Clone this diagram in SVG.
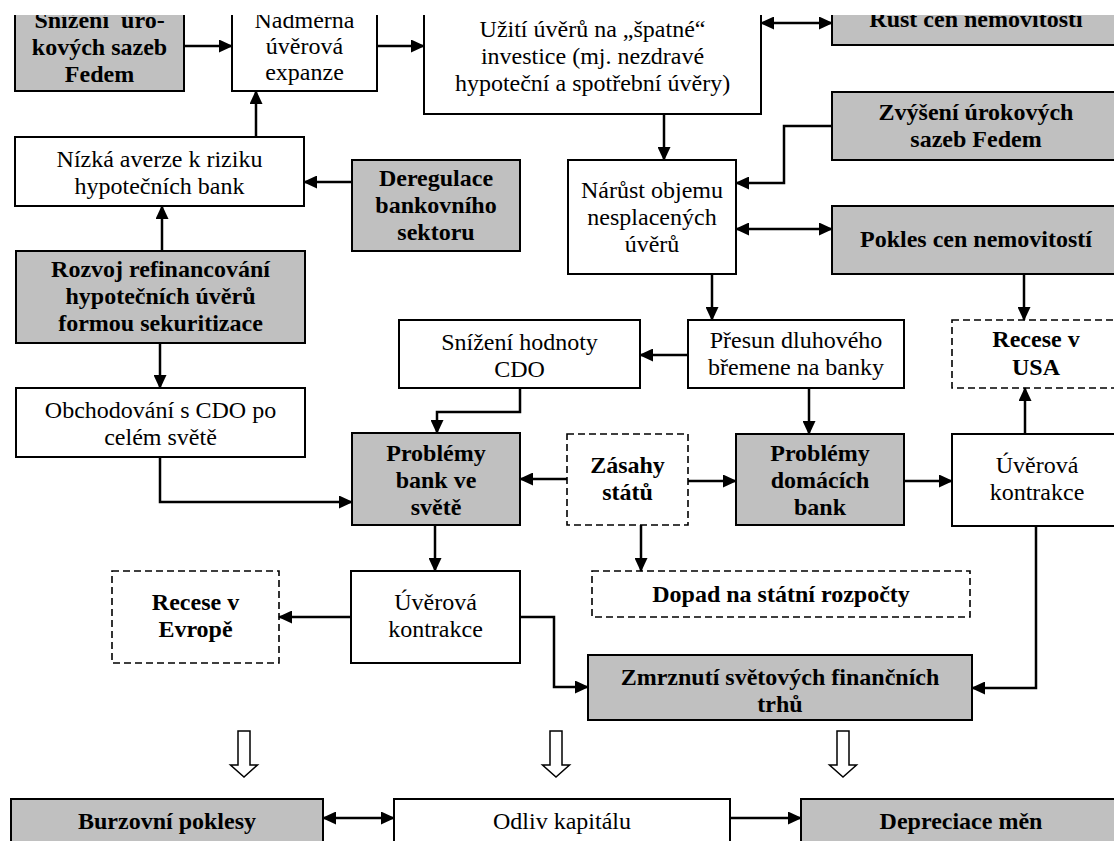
<svg xmlns="http://www.w3.org/2000/svg" width="1114" height="841" viewBox="0 0 1114 841">
<style>
.t{font-family:"Liberation Serif","Times New Roman",serif;font-size:24px;text-anchor:middle;fill:#000}
.b{font-weight:bold}
.w{fill:#fff;stroke:#000;stroke-width:2}
.g{fill:#c0c0c0;stroke:#000;stroke-width:2}
.d{fill:#fff;stroke:#000;stroke-width:1.6;stroke-dasharray:7 4}
.c{fill:none;stroke:#000;stroke-width:2.5}
.a{marker-end:url(#ah)}
.aa{marker-end:url(#ah);marker-start:url(#ah)}
.h{fill:#fff;stroke:#000;stroke-width:1.5}
</style>
<defs>
<marker id="ah" markerUnits="userSpaceOnUse" markerWidth="14" markerHeight="13" refX="13" refY="6.5" orient="auto-start-reverse">
<path d="M0,0 L14,6.5 L0,13 z" fill="#000"/>
</marker>
<clipPath id="clip"><rect x="0" y="15" width="1114" height="826"/></clipPath>
</defs>
<rect x="0" y="0" width="1114" height="841" fill="#fff"/>
<g clip-path="url(#clip)">
<g id="n1"><rect class="g" x="15" y="5" width="169" height="86"/>
<text class="t b"><tspan x="99.5" y="28" word-spacing="6">Snížení úro-</tspan><tspan x="99.5" y="55">kových sazeb</tspan><tspan x="99.5" y="82">Fedem</tspan></text></g>
<g id="n2"><rect class="w" x="232" y="5" width="145" height="86"/>
<text class="t"><tspan x="304.5" y="28">Nadměrná</tspan><tspan x="304.5" y="54">úvěrová</tspan><tspan x="304.5" y="80">expanze</tspan></text></g>
<g id="n3"><rect class="w" x="424" y="5" width="337" height="109"/>
<text class="t"><tspan x="592.5" y="37">Užití úvěrů na „špatné“</tspan><tspan x="592.5" y="64">investice (mj. nezdravé</tspan><tspan x="592.5" y="91">hypoteční a spotřební úvěry)</tspan></text></g>
<g id="n4"><rect class="g" x="832" y="5" width="290" height="40"/>
<text class="t b" x="976" y="27">Růst cen nemovitostí</text></g>
<g id="n5"><rect class="g" x="832" y="92" width="290" height="68"/>
<text class="t b"><tspan x="976" y="120">Zvýšení úrokových</tspan><tspan x="976" y="147">sazeb Fedem</tspan></text></g>
<g id="n6"><rect class="w" x="568" y="160" width="168" height="114"/>
<text class="t"><tspan x="652" y="198">Nárůst objemu</tspan><tspan x="652" y="225">nesplacených</tspan><tspan x="652" y="252">úvěrů</tspan></text></g>
<g id="n7"><rect class="g" x="832" y="206" width="290" height="68"/>
<text class="t b" x="976" y="247">Pokles cen nemovitostí</text></g>
<g id="n8"><rect class="w" x="15" y="137" width="289" height="69"/>
<text class="t"><tspan x="159.5" y="167">Nízká averze k riziku</tspan><tspan x="159.5" y="194">hypotečních bank</tspan></text></g>
<g id="n9"><rect class="g" x="352" y="160" width="168" height="91"/>
<text class="t b"><tspan x="436" y="186">Deregulace</tspan><tspan x="436" y="213">bankovního</tspan><tspan x="436" y="240">sektoru</tspan></text></g>
<g id="n10"><rect class="g" x="16" y="251" width="289" height="92"/>
<text class="t b"><tspan x="160.5" y="277">Rozvoj refinancování</tspan><tspan x="160.5" y="304">hypotečních úvěrů</tspan><tspan x="160.5" y="331">formou sekuritizace</tspan></text></g>
<g id="n11"><rect class="w" x="399" y="320" width="241" height="68"/>
<text class="t"><tspan x="519.5" y="350">Snížení hodnoty</tspan><tspan x="519.5" y="377">CDO</tspan></text></g>
<g id="n12"><rect class="w" x="688" y="320" width="216" height="68"/>
<text class="t"><tspan x="796" y="348">Přesun dluhového</tspan><tspan x="796" y="375">břemene na banky</tspan></text></g>
<g id="n13"><rect class="d" x="952" y="320" width="170" height="68"/>
<text class="t b"><tspan x="1036" y="347">Recese v</tspan><tspan x="1036" y="375">USA</tspan></text></g>
<g id="n14"><rect class="w" x="16" y="388" width="289" height="69"/>
<text class="t"><tspan x="160.5" y="418">Obchodování s CDO po</tspan><tspan x="160.5" y="445">celém světě</tspan></text></g>
<g id="n15"><rect class="g" x="352" y="433" width="168" height="92"/>
<text class="t b"><tspan x="436" y="461">Problémy</tspan><tspan x="436" y="488">bank ve</tspan><tspan x="436" y="515">světě</tspan></text></g>
<g id="n16"><rect class="d" x="567" y="434" width="121" height="91"/>
<text class="t b"><tspan x="627.5" y="473">Zásahy</tspan><tspan x="627.5" y="500">států</tspan></text></g>
<g id="n17"><rect class="g" x="736" y="434" width="168" height="91"/>
<text class="t b"><tspan x="820" y="461">Problémy</tspan><tspan x="820" y="488">domácích</tspan><tspan x="820" y="515">bank</tspan></text></g>
<g id="n18"><rect class="w" x="952" y="434" width="170" height="92"/>
<text class="t"><tspan x="1037" y="473">Úvěrová</tspan><tspan x="1037" y="500">kontrakce</tspan></text></g>
<g id="n19"><rect class="d" x="112" y="571" width="167" height="92"/>
<text class="t b"><tspan x="195.5" y="610">Recese v</tspan><tspan x="195.5" y="637">Evropě</tspan></text></g>
<g id="n20"><rect class="w" x="351" y="571" width="169" height="92"/>
<text class="t"><tspan x="435.5" y="610">Úvěrová</tspan><tspan x="435.5" y="637">kontrakce</tspan></text></g>
<g id="n21"><rect class="d" x="592" y="571" width="378" height="46"/>
<text class="t b" x="781" y="602">Dopad na státní rozpočty</text></g>
<g id="n22"><rect class="g" x="588" y="655" width="384" height="65"/>
<text class="t b"><tspan x="780" y="685">Zmrznutí světových finančních</tspan><tspan x="780" y="712">trhů</tspan></text></g>
<g id="n23"><rect class="g" x="11" y="799" width="312" height="60"/>
<text class="t b" x="167" y="829">Burzovní poklesy</text></g>
<g id="n24"><rect class="w" x="394" y="799" width="336" height="60"/>
<text class="t" x="562" y="829">Odliv kapitálu</text></g>
<g id="n25"><rect class="g" x="801" y="799" width="330" height="60"/>
<text class="t b" x="961" y="829">Depreciace měn</text></g>
<g id="connectors">
<path class="c a" d="M184,46 H232"/>
<path class="c a" d="M377,46 H424"/>
<path class="c aa" d="M761,23 H832"/>
<path class="c a" d="M256,137 V91"/>
<path class="c a" d="M352,182 H304"/>
<path class="c a" d="M162,251 V206"/>
<path class="c a" d="M664,114 V160"/>
<path class="c a" d="M832,126 H784 V183 H736"/>
<path class="c aa" d="M736,229 H832"/>
<path class="c a" d="M712,274 V320"/>
<path class="c a" d="M1024,274 V320"/>
<path class="c a" d="M688,355 H640"/>
<path class="c a" d="M809,388 V434"/>
<path class="c a" d="M160,343 V388"/>
<path class="c a" d="M160,457 V502 H352"/>
<path class="c a" d="M520,388 V412 H437 V433"/>
<path class="c a" d="M567,479 H520"/>
<path class="c a" d="M688,481 H736"/>
<path class="c a" d="M904,481 H952"/>
<path class="c a" d="M1025,434 V388"/>
<path class="c a" d="M641,525 V571"/>
<path class="c a" d="M435,525 V571"/>
<path class="c a" d="M351,617 H279"/>
<path class="c a" d="M520,617 H554 V687 H588"/>
<path class="c a" d="M1036,526 V688 H972"/>
<path class="c aa" d="M323,818 H394"/>
<path class="c a" d="M730,818 H801"/>
<polygon class="h" points="238,731 250,731 250,765 257.5,765 244,777 230.5,765 238,765"/>
<polygon class="h" points="550,731 562,731 562,765 569.5,765 556,777 542.5,765 550,765"/>
<polygon class="h" points="837,731 849,731 849,765 856.5,765 843,777 829.5,765 837,765"/>
</g>
</g>
</svg>
